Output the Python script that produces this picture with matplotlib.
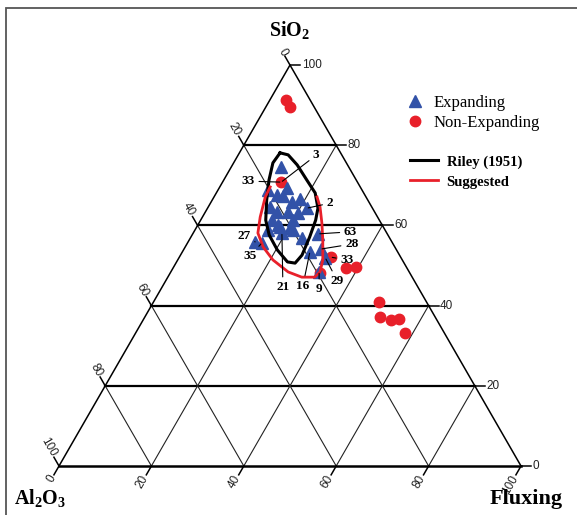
import numpy as np
import matplotlib.pyplot as plt
from matplotlib.lines import Line2D
from matplotlib.patches import Rectangle

plt.rcParams['mathtext.fontset'] = 'custom'
plt.rcParams['mathtext.rm'] = 'Liberation Serif'
plt.rcParams['mathtext.bf'] = 'Liberation Serif:bold'

# compositions in percent, Al2O3 = 100 - SiO2 - Fluxing
exp_sio2 = [74.6, 69.3, 67.6, 66.6, 65.8, 64.3, 64.6, 63.3, 63.3, 63.1, 61.3, 61.3, 59.6, 59.4, 55.9,
            60.1, 58.1, 58.9, 56.9, 53.4, 57.9, 54.1, 51.9, 48.4, 68.8, 67.3, 58.9, 55.6]
exp_flux = [10.8, 14.7, 13.4, 18.9, 17.5, 21.5, 13.4, 15.5, 17.9, 20.1, 15.4, 19.9, 18.0, 20.3, 14.5,
            17.4, 19.2, 21.2, 24.2, 27.6, 27.2, 29.6, 31.7, 32.1, 10.8, 14.8, 15.8, 16.1]

nonexp_sio2 = [91.3, 89.5, 70.8, 52.1, 48.1, 49.4, 49.6, 40.9, 37.2, 36.4, 36.7, 33.2]
nonexp_flux = [3.5, 5.2, 12.7, 32.8, 32.4, 37.4, 39.5, 48.8, 50.9, 53.7, 55.3, 58.3]

# Riley (1951) bloating field, closed
riley_sio2 = [78.1, 77.6, 75.1, 71.3, 68.1, 64.3, 61.3, 57.1, 52.6, 50.6, 50.9, 53.9, 57.6, 61.3,
              66.3, 71.3, 75.6, 78.1]
riley_flux = [8.8, 10.8, 14.0, 18.0, 21.4, 23.9, 24.9, 25.7, 26.3, 25.8, 24.0, 20.3, 16.7, 14.1,
              11.8, 9.8, 8.5, 8.8]

# suggested field (open at the top)
sugg_sio2 = [69.6, 67.1, 62.1, 58.1, 54.6, 51.4, 48.4, 47.1, 47.1, 48.4, 51.4, 56.4, 60.6, 64.6, 67.1]
sugg_flux = [10.9, 11.1, 12.5, 14.0, 16.9, 20.6, 25.4, 29.0, 31.8, 32.3, 31.4, 28.9, 26.6, 24.2, 22.3]

ticks = [0, 20, 40, 60, 80, 100]

# sample numbers: (label, set, index, dx px, dy px)
sample_labels = [('3', 'n', 2, 35, 27), ('33', 'n', 2, -33, 1), ('2', 'e', 5, 23, 5),
                 ('63', 'e', 20, 32, 2), ('28', 'e', 21, 31, 5), ('33', 'n', 3, 16, -3),
                 ('29', 'e', 22, 12, -23), ('9', 'e', 23, 0, -17), ('16', 'e', 19, -7, -34),
                 ('21', 'e', 16, 1, -54), ('27', 'e', 14, -11, 6), ('35', 'e', 27, -12, -13)]

H = np.sqrt(3) / 2


def to_xy(sio2, flux):
    s = np.asarray(sio2, float)
    f = np.asarray(flux, float)
    return f + s / 2, s * H


fig = plt.figure(figsize=(5.77, 5.15), dpi=100)
ax = fig.add_axes([0, 0, 1, 1])
ax.set_xlim(-12.77, 112.12)
ax.set_ylim(-10.58, 100.65)
ax.axis('off')

fig.patches.append(Rectangle((6 / 577, -0.1), 1.2, 1.1 - 8 / 515, transform=fig.transFigure,
                             fill=False, edgecolor='#555555', lw=1.3))

# grid lines
for v in ticks[1:-1]:
    x, y = to_xy([v, v], [0, 100 - v])
    ax.plot(x, y, color='black', lw=1.6, zorder=1)
    x, y = to_xy([0, 100 - v], [v, v])
    ax.plot(x, y, color='#222222', lw=0.8, zorder=1)
    x, y = to_xy([0, 100 - v], [100 - v, 0])
    ax.plot(x, y, color='#222222', lw=0.8, zorder=1)

# edges
x, y = to_xy([0, 100, 0], [100, 0, 0])
ax.plot(x, y, color='black', lw=1.1, zorder=1)
x, y = to_xy([0, 0], [0, 100])
ax.plot(x, y, color='black', lw=1.8, zorder=1)

# ticks and tick labels
tl = 2.2
tick_font = dict(family='Liberation Sans', fontsize=8.5, color='#222222')
for v in ticks:
    # SiO2 on right edge
    x, y = to_xy(v, 100 - v)
    ax.plot([x, x + tl], [y, y], color='black', lw=1.1)
    ax.text(x + tl + 0.3, y, str(v), ha='left', va='center', **tick_font)
    # Al2O3 on left edge
    x, y = to_xy(100 - v, 0)
    dx, dy = -0.5 * tl, H * tl
    ax.plot([x, x + dx], [y, y + dy], color='black', lw=1.1)
    ax.text(x + dx * 1.15, y + dy * 1.15, str(v), ha='right', va='center', rotation=-60,
            rotation_mode='anchor', **tick_font)
    # Fluxing on bottom edge
    x, y = to_xy(0, v)
    dx, dy = -0.5 * tl, -H * tl
    ax.plot([x, x + dx], [y, y + dy], color='black', lw=1.1)
    ax.text(x + dx * 1.15, y + dy * 1.15, str(v), ha='right', va='center', rotation=60,
            rotation_mode='anchor', **tick_font)

# data
blue = '#3252A8'
red = '#E8202A'
ex, ey = to_xy(exp_sio2, exp_flux)
nx, ny = to_xy(nonexp_sio2, nonexp_flux)
ax.plot(nx, ny, 'o', color=red, ms=7.5, mec=red, zorder=3)
ax.plot(ex, ey, '^', color=blue, ms=8.5, mec=blue, zorder=4)

x, y = to_xy(riley_sio2, riley_flux)
ax.plot(x, y, color='black', lw=2.2, zorder=5, solid_joinstyle='round')
x, y = to_xy(sugg_sio2, sugg_flux)
ax.plot(x, y, color=red, lw=2.0, zorder=5, solid_joinstyle='round')

for lab, kind, i, dx, dy in sample_labels:
    px, py = (ex[i], ey[i]) if kind == 'e' else (nx[i], ny[i])
    ax.annotate(lab, (px, py), xytext=(dx, dy), textcoords='offset pixels',
                ha='center', va='center', family='Liberation Serif', fontweight='bold',
                fontsize=9.5, zorder=6,
                arrowprops=dict(arrowstyle='-', lw=0.8, color='black', shrinkA=1, shrinkB=1))

# vertex titles
x, y = to_xy(100, 0)
ax.text(x, y + 7.5, r'$\mathbf{SiO_2}$', ha='center', va='center', fontsize=14.5)
ax.text(-9.7, -7.0, r'$\mathbf{Al_2O_3}$', ha='left', va='center', fontsize=14.5)
ax.text(109.0, -7.2, 'Fluxing', ha='right', va='center', family='Liberation Serif',
        fontweight='bold', fontsize=16)

# legends
h1 = [Line2D([], [], marker='^', ls='none', color=blue, ms=8),
      Line2D([], [], marker='o', ls='none', color=red, ms=7.5)]
leg1 = ax.legend(h1, ['Expanding', 'Non-Expanding'], loc='upper left',
                 bbox_to_anchor=(0.664, 0.845), frameon=False, handletextpad=0.1,
                 labelspacing=0.25, prop={'family': 'Liberation Serif', 'size': 12})
ax.add_artist(leg1)
h2 = [Line2D([], [], color='black', lw=2.2), Line2D([], [], color=red, lw=2.0)]
ax.legend(h2, ['Riley (1951)', 'Suggested'], loc='upper left',
          bbox_to_anchor=(0.688, 0.724), frameon=False, handlelength=1.9, handletextpad=0.6,
          labelspacing=0.45, prop={'family': 'Liberation Serif', 'size': 10.5, 'weight': 'bold'})

fig.savefig('out.png', dpi=100)
